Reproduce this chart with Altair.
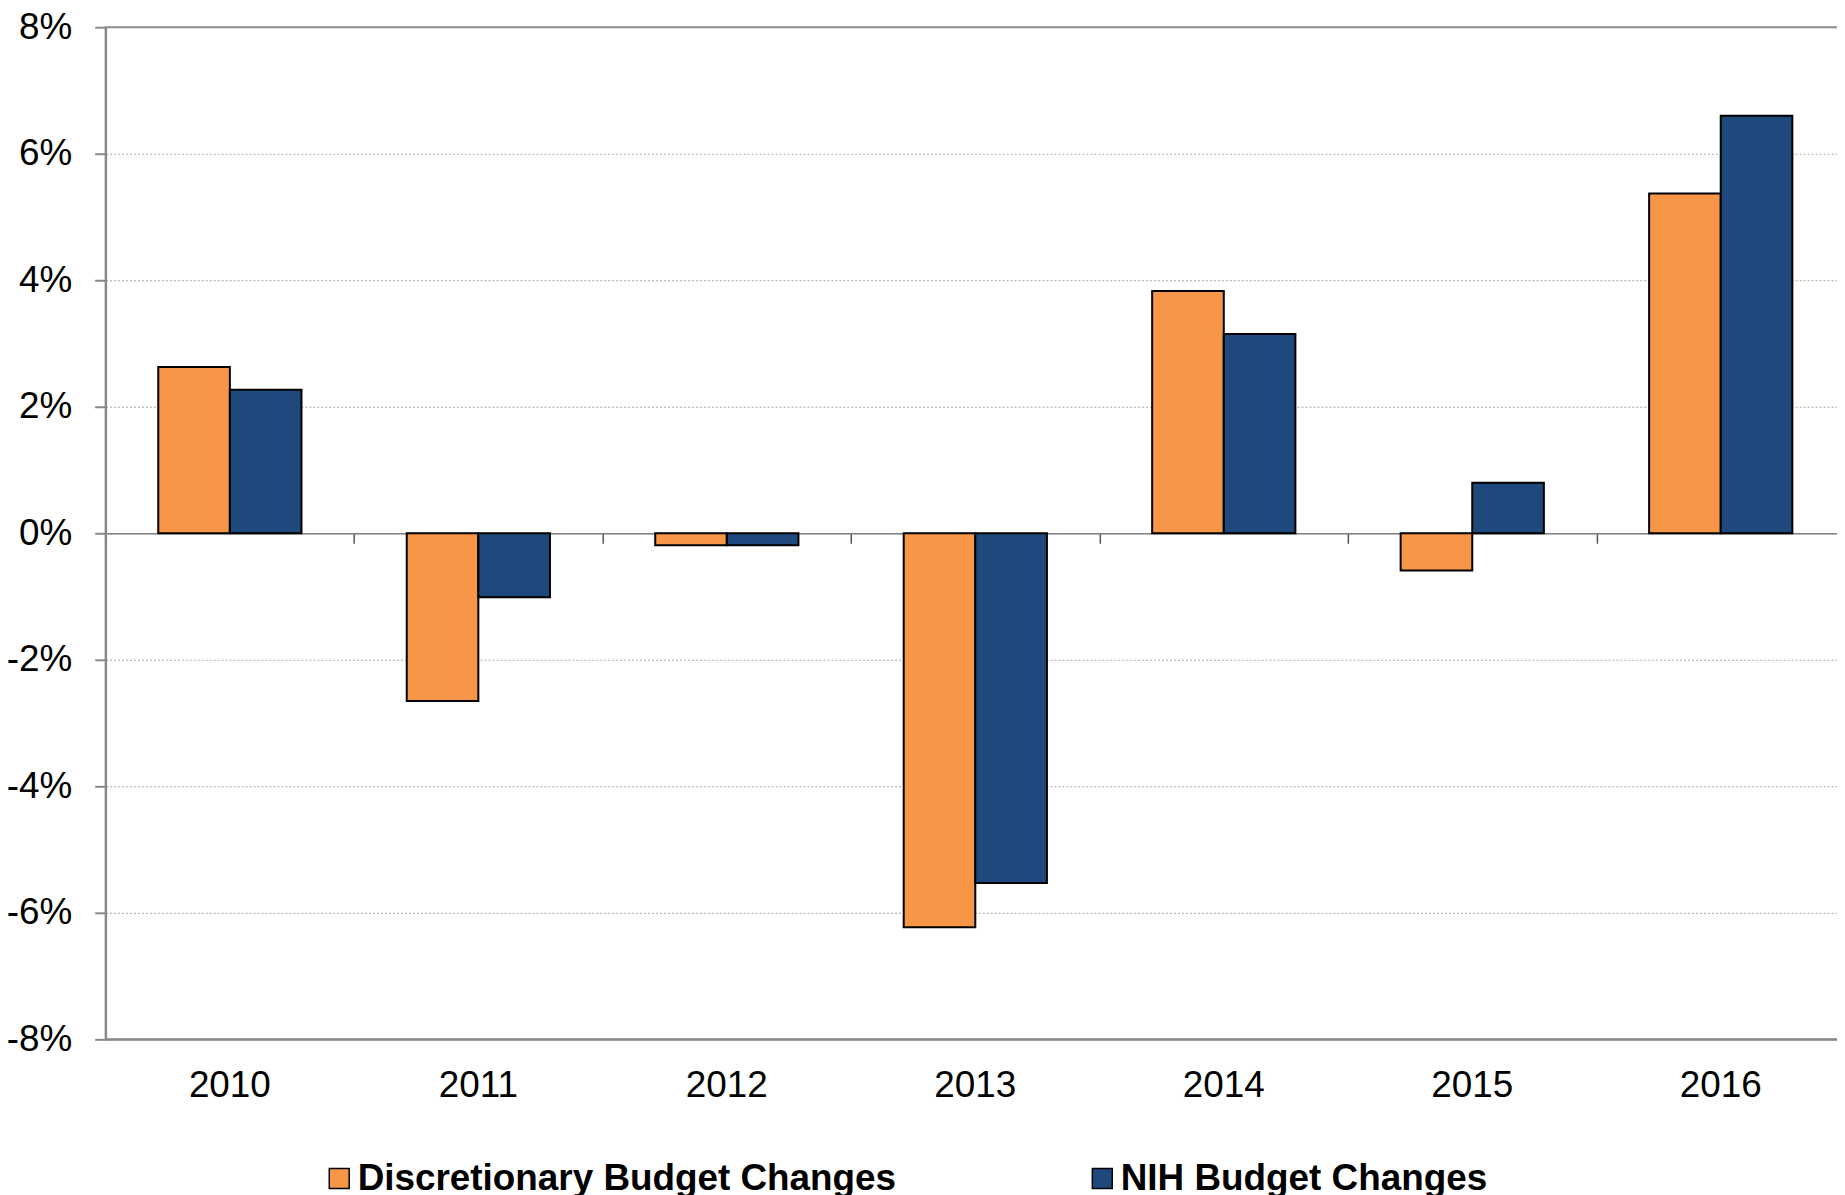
import altair as alt
import pandas as pd

years = ["2010", "2011", "2012", "2013", "2014", "2015", "2016"]
discretionary = [2.63, -2.65, -0.19, -6.23, 3.83, -0.59, 5.37]
nih = [2.27, -1.01, -0.19, -5.53, 3.15, 0.80, 6.60]
series = ["Discretionary Budget Changes", "NIH Budget Changes"]
colors = ["#F79646", "#1F497D"]
y_ticks = [-8, -6, -4, -2, 0, 2, 4, 6, 8]

rows = []
for i, yr in enumerate(years):
    rows.append({"year": yr, "series": series[0], "value": discretionary[i]})
    rows.append({"year": yr, "series": series[1], "value": nih[i]})
df = pd.DataFrame(rows)

FONT = "Liberation Sans"
W, H = 1746, 1016

x_scale = alt.Scale(paddingInner=0, paddingOuter=0)
y_scale = alt.Scale(domain=[-8, 8], nice=False, zero=False)

bars = alt.Chart(df).mark_bar(stroke="black", strokeWidth=2).encode(
    x=alt.X("year:N", sort=years, scale=x_scale,
            axis=alt.Axis(orient="bottom", title=None, labelAngle=0, labelFontSize=37,
                          labelFont=FONT, labelColor="black", labelPadding=28,
                          ticks=False, domain=True, domainColor="#888888",
                          domainWidth=2, grid=False)),
    xOffset=alt.XOffset("series:N", sort=series,
                        scale=alt.Scale(paddingOuter=0.735, paddingInner=0)),
    y=alt.Y("value:Q", scale=y_scale,
            axis=alt.Axis(title=None, values=y_ticks, labelExpr="datum.value + '%'",
                          labelFontSize=37, labelFont=FONT, labelColor="black",
                          labelPadding=23, tickSize=11, tickColor="#888888",
                          tickWidth=2, domainColor="#888888", domainWidth=2,
                          grid=True, gridColor="#A6A6A6", gridDash=[2, 2],
                          gridWidth=1)),
    color=alt.Color("series:N", sort=series,
                    scale=alt.Scale(domain=series, range=colors),
                    legend=alt.Legend(title=None, orient="none", legendX=216,
                                      legendY=1137, direction="horizontal",
                                      symbolType="square", symbolSize=400,
                                      symbolStrokeColor="black",
                                      symbolStrokeWidth=1.5, labelFontSize=37,
                                      labelFont=FONT, labelFontWeight="bold",
                                      labelColor="black", columnPadding=188,
                                      labelOffset=0, labelLimit=0)),
)

zero_axis = alt.Chart(df).mark_rule(opacity=0).encode(
    x=alt.X("year:N", sort=years, scale=x_scale,
            axis=alt.Axis(orient="bottom", offset=-H / 2, labels=False, title=None,
                          ticks=True, tickBand="extent", tickSize=10,
                          tickColor="#555555", tickWidth=1.5, domain=True,
                          domainColor="#808080", domainWidth=1.5, grid=False)),
)

chart = alt.layer(zero_axis, bars).resolve_axis(x="independent").properties(
    width=W, height=H,
    autosize=alt.AutoSizeParams(type="none"),
    padding={"left": 98, "top": 17, "right": -8, "bottom": 160},
).configure_view(stroke="#888888", strokeWidth=2)

chart.save("out.html", embed_options={"renderer": "svg", "actions": False})
